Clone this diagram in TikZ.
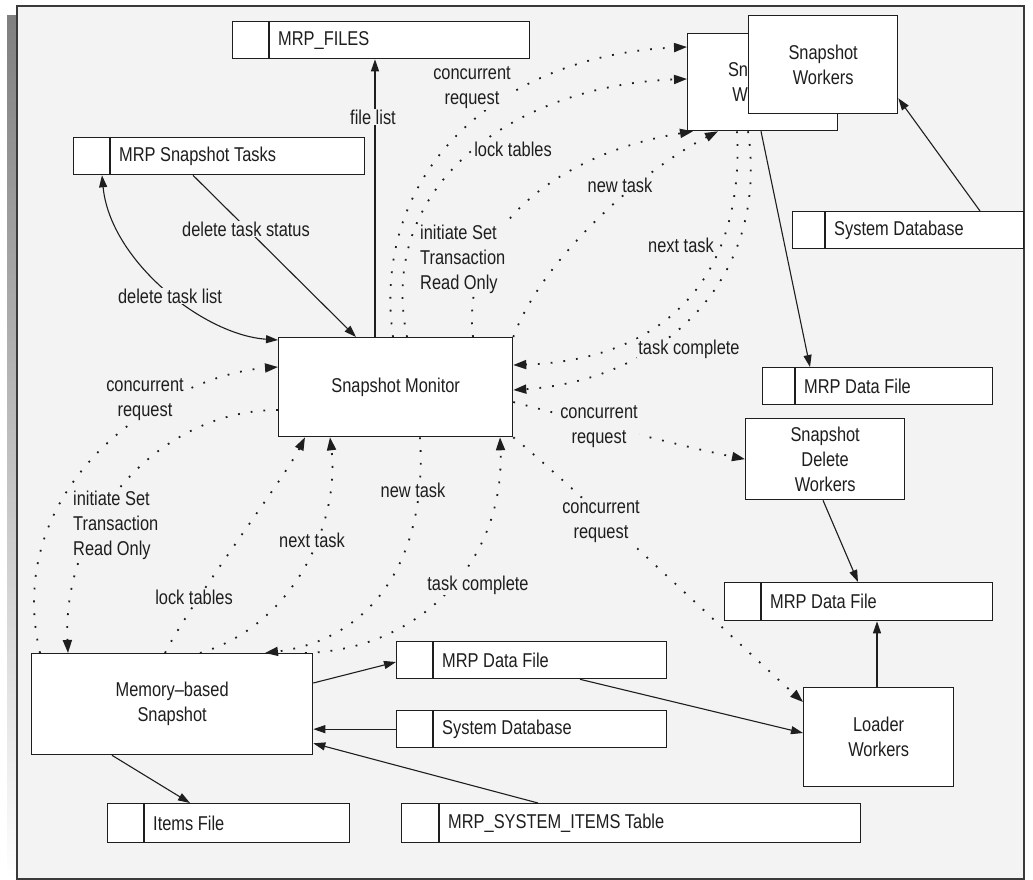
\documentclass[tikz,border=0pt]{standalone}
\usepackage{fontspec}
\setmainfont{Liberation Sans}[FakeStretch=0.82]
\usetikzlibrary{arrows.meta}
\definecolor{panel}{HTML}{F3F3F3}
\definecolor{shade}{HTML}{C0C0C0}
\definecolor{ink}{HTML}{1E1E1E}
\definecolor{framec}{HTML}{3A3A3A}

% data store: name, left, top, width, height, divider offset, text
\newcommand\datastore[7]{%
  \node[storebox, minimum width=#4pt, minimum height=#5pt] (#1) at (#2,#3) {};
  \draw[draw=ink, line width=1.3pt] ([xshift=#6pt]#1.north west) -- ([xshift=#6pt]#1.south west);
  \node[anchor=west, inner sep=0pt] (#1-text) at ([xshift=#6pt+9pt]#1.west) {#7};
}

\begin{document}
\begin{tikzpicture}[x=1pt,y=-1pt,
  every node/.style={font=\fontsize{20}{25}\selectfont, text=ink},
  proc/.style={draw=ink, line width=1.3pt, fill=white, align=center, inner sep=0pt, anchor=north west},
  storebox/.style={draw=ink, line width=1.3pt, fill=white, anchor=north west, inner sep=0pt},
  lbl/.style={fill=panel, inner sep=1pt, align=center},
  flow/.style={draw=ink, line width=1.1pt, -{Triangle[length=12pt,width=8pt]}},
  dflow/.style={draw=ink, line width=1.8pt, dash pattern=on 1.8pt off 11pt, -{Triangle[length=13pt,width=9pt]}},
]
\useasboundingbox (0,0) rectangle (1033,880);
\fill[white] (0,0) rectangle (1033,880);
\fill[shade] (7,16) rectangle (17,880);
\draw[draw=framec, fill=panel, line width=2pt] (17,6) rectangle (1024,879);

% processes
\node[proc, minimum width=234pt, minimum height=99pt] (mon) at (278,337) {Snapshot Monitor};
\node[proc, minimum width=150pt, minimum height=97pt] (wkb) at (687,33) {Snapshot\\Workers};
\node[proc, minimum width=149pt, minimum height=98pt] (wkf) at (748,15) {Snapshot\\Workers};
\node[proc, minimum width=159pt, minimum height=81pt] (del) at (745,418) {Snapshot\\Delete\\Workers};
\node[proc, minimum width=150pt, minimum height=99pt] (load) at (803,687) {Loader\\Workers};
\node[proc, minimum width=281pt, minimum height=101pt] (mem) at (31,653) {Memory--based\\Snapshot};

% data stores
\datastore{files}{232}{21}{297}{37}{37}{MRP\_FILES}
\datastore{tasks}{73}{137}{291}{37}{37}{MRP Snapshot Tasks}
\datastore{sysdb1}{792}{211}{231}{37}{33}{System Database}
\datastore{mdf1}{762}{367}{230}{37}{33}{MRP Data File}
\datastore{mdf2}{724}{582}{268}{38}{37}{MRP Data File}
\datastore{mdf3}{396}{641}{270}{37}{37}{MRP Data File}
\datastore{sysdb2}{396}{710}{270}{37}{37}{System Database}
\datastore{items}{107}{803}{242}{39}{37}{Items File}
\datastore{msi}{401}{803}{459}{39}{38}{MRP\_SYSTEM\_ITEMS Table}

% solid flows
\draw[flow] ([xshift=97pt]mon.north west) -- ([xshift=143pt]files.south west);
\draw[flow] ([xshift=120pt]tasks.south west) -- ([xshift=78pt]mon.north west);
\draw[draw=ink, line width=1.1pt, {Triangle[length=12pt,width=8pt]}-{Triangle[length=12pt,width=8pt]}]
  ([xshift=29pt]tasks.south west) .. controls +(8,85) and +(-75,-5) .. ([yshift=-3pt]mon.north west);
\draw[flow] ([xshift=74pt]wkb.south west) -- ([xshift=48pt]mdf1.north west);
\draw[flow] ([xshift=188pt]sysdb1.north west) -- ([yshift=16pt]wkf.south east);
\draw[flow] ([xshift=78pt]del.south west) -- ([xshift=134pt]mdf2.north west);
\draw[flow] ([xshift=74pt]load.north west) -- ([xshift=153pt]mdf2.south west);
\draw[flow] ([yshift=-30pt]mem.north east) -- ([yshift=-21pt]mdf3.north west);
\draw[flow] (sysdb2.west) -- (sysdb2.west -| mem.east);
\draw[flow] ([xshift=137pt]msi.north west) -- ([yshift=12pt]mem.south east);
\draw[flow] ([xshift=81pt]mem.south west) -- ([xshift=83pt]items.north west);
\draw[flow] ([xshift=184pt]mdf3.south west) -- ([yshift=-46pt]load.north west);

% monitor <-> snapshot workers
\draw[dflow] ([xshift=115pt]mon.north west) .. controls +(-23,-167) and +(-187,8) .. ([yshift=-14pt]wkb.north west);
\draw[dflow] ([xshift=129pt]mon.north west) .. controls +(-32,-157) and +(-167,6) .. ([yshift=-46pt]wkb.north west);
\draw[dflow] ([xshift=195pt]mon.north west) .. controls +(-13,-117) and +(-123,20) .. ([xshift=6pt]wkb.south west);
\draw[dflow] (mon.north east) .. controls +(28,-77) and +(-78,40) .. ([xshift=31pt]wkb.south west);
\draw[dflow] ([xshift=50pt]wkb.south west) .. controls +(8,150) and +(148,-5) .. ([yshift=-28pt]mon.north east);
\draw[dflow] ([xshift=61pt]wkb.south west) .. controls +(22,150) and +(148,-10) .. ([yshift=-53pt]mon.north east);

% monitor -> delete and loader workers
\draw[dflow] ([yshift=-65pt]mon.north east) .. controls +(60,16) and +(-60,-12) .. (del.west);
\draw[dflow] (mon.south east) .. controls +(50,40) and +(-50,-45) .. ([yshift=-15pt]load.north west);

% monitor <-> memory-based snapshot
\draw[dflow] ([xshift=9pt]mem.north west) .. controls +(-40,-173) and +(-108,8) .. ([yshift=-30pt]mon.north west);
\draw[dflow] ([yshift=-73pt]mon.north west) .. controls +(-118,0) and +(-6,-133) .. ([xshift=37pt]mem.north west);
\draw[dflow] ([xshift=134pt]mem.north west) .. controls +(25,-50) and +(-20,40) .. ([xshift=27pt]mon.south west);
\draw[dflow] ([xshift=169pt]mem.north west) .. controls +(95,-28) and +(10,84) .. ([xshift=52pt]mon.south west);
\draw[dflow] ([xshift=142pt]mon.south west) .. controls +(8,124) and +(105,-13) .. ([xshift=234pt]mem.north west);
\draw[dflow] ([xshift=274pt]mem.north west) .. controls +(115,-3) and +(5,124) .. ([xshift=222pt]mon.south west);

% labels
\node[lbl] (l-files) at (373,117) {file list};
\node[lbl] (l-dts) at (246,229) {delete task status};
\node[lbl] (l-dtl) at (170,296) {delete task list};
\node[lbl] (l-cr1) at (472,88) {concurrent\\request};
\node[lbl] (l-lt1) at (513,149) {lock tables};
\node[lbl, anchor=west, align=left] (l-ist1) at (419,259) {initiate Set\\Transaction\\Read Only};
\node[lbl] (l-nt1) at (620,185) {new task};
\node[lbl] (l-nx1) at (681,245) {next task};
\node[lbl] (l-tc1) at (689,349) {task complete};
\node[lbl] (l-cr2) at (599,427) {concurrent\\request};
\node[lbl] (l-cr3) at (601,522) {concurrent\\request};
\node[lbl] (l-cr4) at (145,400) {concurrent\\request};
\node[lbl, anchor=west, align=left] (l-ist2) at (72,525) {initiate Set\\Transaction\\Read Only};
\node[lbl] (l-lt2) at (194,597) {lock tables};
\node[lbl] (l-nx2) at (312,540) {next task};
\node[lbl] (l-nt2) at (413,490) {new task};
\node[lbl] (l-tc2) at (478,585) {task complete};
\end{tikzpicture}
\end{document}
